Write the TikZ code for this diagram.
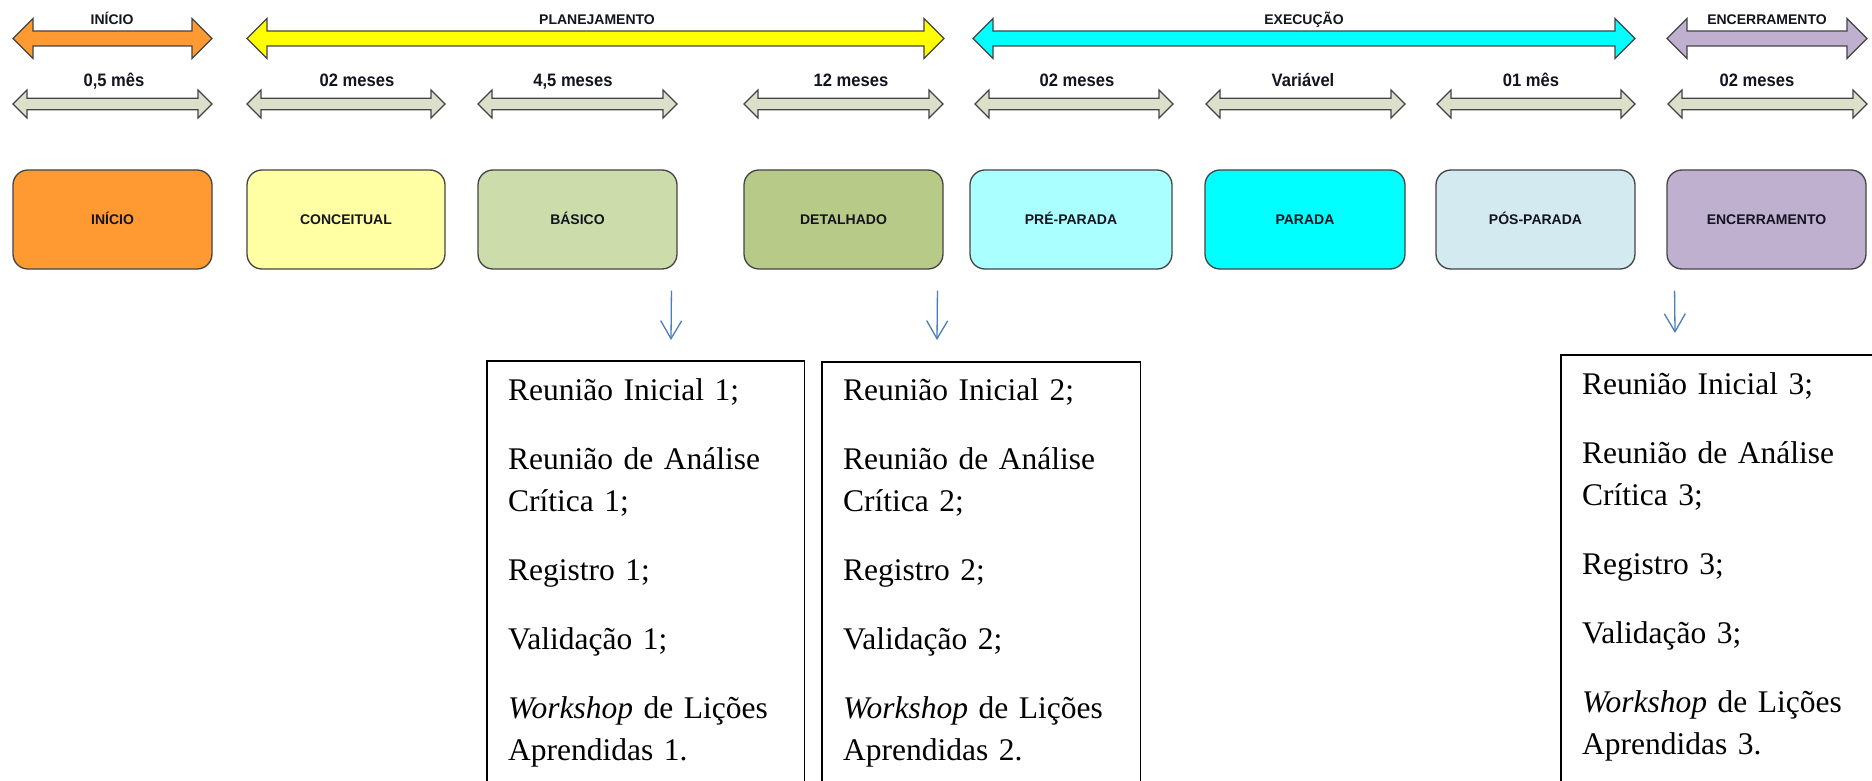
\documentclass[tikz,border=0pt]{standalone}
\usepackage{fontspec}
\setmainfont{Liberation Serif}
\newfontfamily\lsans{Liberation Sans}
\newfontfamily\lsansn[FakeStretch=0.92]{Liberation Sans}
\usetikzlibrary{arrows.meta}
\definecolor{cInicio}{HTML}{FF9A33}
\definecolor{cConc}{HTML}{FFFFA3}
\definecolor{cBas}{HTML}{CCDCAB}
\definecolor{cDet}{HTML}{B8CA88}
\definecolor{cPre}{HTML}{AAFFFF}
\definecolor{cPar}{HTML}{00FFFF}
\definecolor{cPos}{HTML}{D2EAF0}
\definecolor{cEnc}{HTML}{C0B0D0}
\definecolor{cYel}{HTML}{FFFF00}
\definecolor{cGray}{HTML}{DCDFCA}
\definecolor{cOut}{HTML}{444444}
\definecolor{cBlue}{HTML}{4A7EBB}
\definecolor{cLab}{HTML}{141420}
\newcommand\blockarr[7]{%
  \filldraw[#7] (#1,#3) -- (#1+#4,#3-#5) -- (#1+#4,#3-#6) -- (#2-#4,#3-#6) -- (#2-#4,#3-#5) -- (#2,#3) -- (#2-#4,#3+#5) -- (#2-#4,#3+#6) -- (#1+#4,#3+#6) -- (#1+#4,#3+#5) -- cycle;}
\begin{document}
\begin{tikzpicture}[x=1pt,y=-1pt,
  toparr/.style={draw=cOut,line width=1.2pt,line join=miter},
  durarr/.style={draw=cOut,line width=1.2pt,fill=cGray,line join=miter},
  toplab/.style={font=\lsans\bfseries\fontsize{14}{16}\selectfont,text=cLab,anchor=base,inner sep=0pt},
  durlab/.style={font=\lsansn\bfseries\fontsize{18}{20}\selectfont,text=cLab,anchor=base,inner sep=0pt},
  phase/.style={draw=cOut,line width=1.3pt,rounded corners=15pt,inner sep=0pt,minimum height=99pt,
    font=\lsans\bfseries\fontsize{14}{16}\selectfont,text=cLab,text height=10pt,text depth=0pt},
  frame/.style={inner sep=0pt,anchor=north west},
  framedraw/.style={draw=black,line width=1.4pt},
  listtxt/.style={font=\fontsize{31.5}{42}\selectfont,text width=290pt,align=left,inner sep=0pt,anchor=base west},
  bluearr/.style={draw=cBlue,line width=1.3pt,-{Straight Barb[length=18pt,width=21pt,line width=1.3pt]}}
]
\path[use as bounding box,fill=white] (0,0) rectangle (1872,781);

% top phase arrows
\blockarr{13}{212}{38.5}{20}{20}{7.5}{toparr,fill=cInicio}
\blockarr{247}{944}{38.5}{20}{20}{7.5}{toparr,fill=cYel}
\blockarr{973}{1635}{38.5}{20}{20}{7.5}{toparr,fill=cPar}
\blockarr{1667}{1867}{38.5}{20}{20}{7.5}{toparr,fill=cEnc}
\node[toplab] (lInicio) at (112,25) {INÍCIO};
\node[toplab] (lPlan) at (597,25) {PLANEJAMENTO};
\node[toplab] (lExec) at (1304,25) {EXECUÇÃO};
\node[toplab] (lEnc) at (1767,25) {ENCERRAMENTO};

% duration arrows
\blockarr{13}{212}{104}{14}{14}{5.8}{durarr}
\blockarr{247}{445}{104}{14}{14}{5.8}{durarr}
\blockarr{478}{677}{104}{14}{14}{5.8}{durarr}
\blockarr{744}{943}{104}{14}{14}{5.8}{durarr}
\blockarr{975}{1173}{104}{14}{14}{5.8}{durarr}
\blockarr{1206}{1405}{104}{14}{14}{5.8}{durarr}
\blockarr{1437}{1635}{104}{14}{14}{5.8}{durarr}
\blockarr{1668}{1867}{104}{14}{14}{5.8}{durarr}
\node[durlab] (d1) at (114,87) {0,5 mês};
\node[durlab] (d2) at (357,87) {02 meses};
\node[durlab] (d3) at (573,87) {4,5 meses};
\node[durlab] (d4) at (851,87) {12 meses};
\node[durlab] (d5) at (1077,87) {02 meses};
\node[durlab] (d6) at (1303,87) {Variável};
\node[durlab] (d7) at (1531,87) {01 mês};
\node[durlab] (d8) at (1757,87) {02 meses};

% phase boxes
\node[phase,fill=cInicio,minimum width=199pt] (inicio) at (112.5,219.5) {INÍCIO};
\node[phase,fill=cConc,minimum width=198pt] (conceitual) at (346,219.5) {CONCEITUAL};
\node[phase,fill=cBas,minimum width=199pt] (basico) at (577.5,219.5) {BÁSICO};
\node[phase,fill=cDet,minimum width=199pt] (detalhado) at (843.5,219.5) {DETALHADO};
\node[phase,fill=cPre,minimum width=202pt] (prep) at (1071,219.5) {PRÉ-PARADA};
\node[phase,fill=cPar,minimum width=200pt] (parada) at (1305,219.5) {PARADA};
\node[phase,fill=cPos,minimum width=199pt] (posp) at (1535.5,219.5) {PÓS-PARADA};
\node[phase,fill=cEnc,minimum width=199pt] (enc) at (1766.5,219.5) {ENCERRAMENTO};

% text frames
\node[frame,minimum width=317pt,minimum height=440pt] (f1) at (487,361) {};
\node[frame,minimum width=318pt,minimum height=440pt] (f2) at (822,362) {};
\node[frame,minimum width=340pt,minimum height=446pt] (f3) at (1561,355) {};
\draw[framedraw] (f1.south west) |- (f1.north east) -- (f1.south east);
\draw[framedraw] (f2.south west) |- (f2.north east) -- (f2.south east);
\draw[framedraw] (f3.south west) |- (f3.north east) -- (f3.south east);

\node[listtxt] (t1) at (508,400) {Reunião Inicial 1;\\[27pt]Reunião de Análise\\Crítica 1;\\[27pt]Registro 1;\\[27pt]Validação 1;\\[27pt]\textit{Workshop} de Lições\\Aprendidas 1.};
\node[listtxt] (t2) at (843,400) {Reunião Inicial 2;\\[27pt]Reunião de Análise\\Crítica 2;\\[27pt]Registro 2;\\[27pt]Validação 2;\\[27pt]\textit{Workshop} de Lições\\Aprendidas 2.};
\node[listtxt] (t3) at (1582,394) {Reunião Inicial 3;\\[27pt]Reunião de Análise\\Crítica 3;\\[27pt]Registro 3;\\[27pt]Validação 3;\\[27pt]\textit{Workshop} de Lições\\Aprendidas 3.};

% blue arrows
\coordinate (a1) at (671,340);
\coordinate (a2) at (937,340);
\coordinate (a3) at (1675,333);
\draw[bluearr,shorten <=21pt] ([xshift=-6pt]basico.south east) -- (a1);
\draw[bluearr,shorten <=21pt] ([xshift=-6pt]detalhado.south east) -- (a2);
\draw[bluearr,shorten <=21pt] ([xshift=8pt]enc.south west) -- (a3);
\end{tikzpicture}
\end{document}
